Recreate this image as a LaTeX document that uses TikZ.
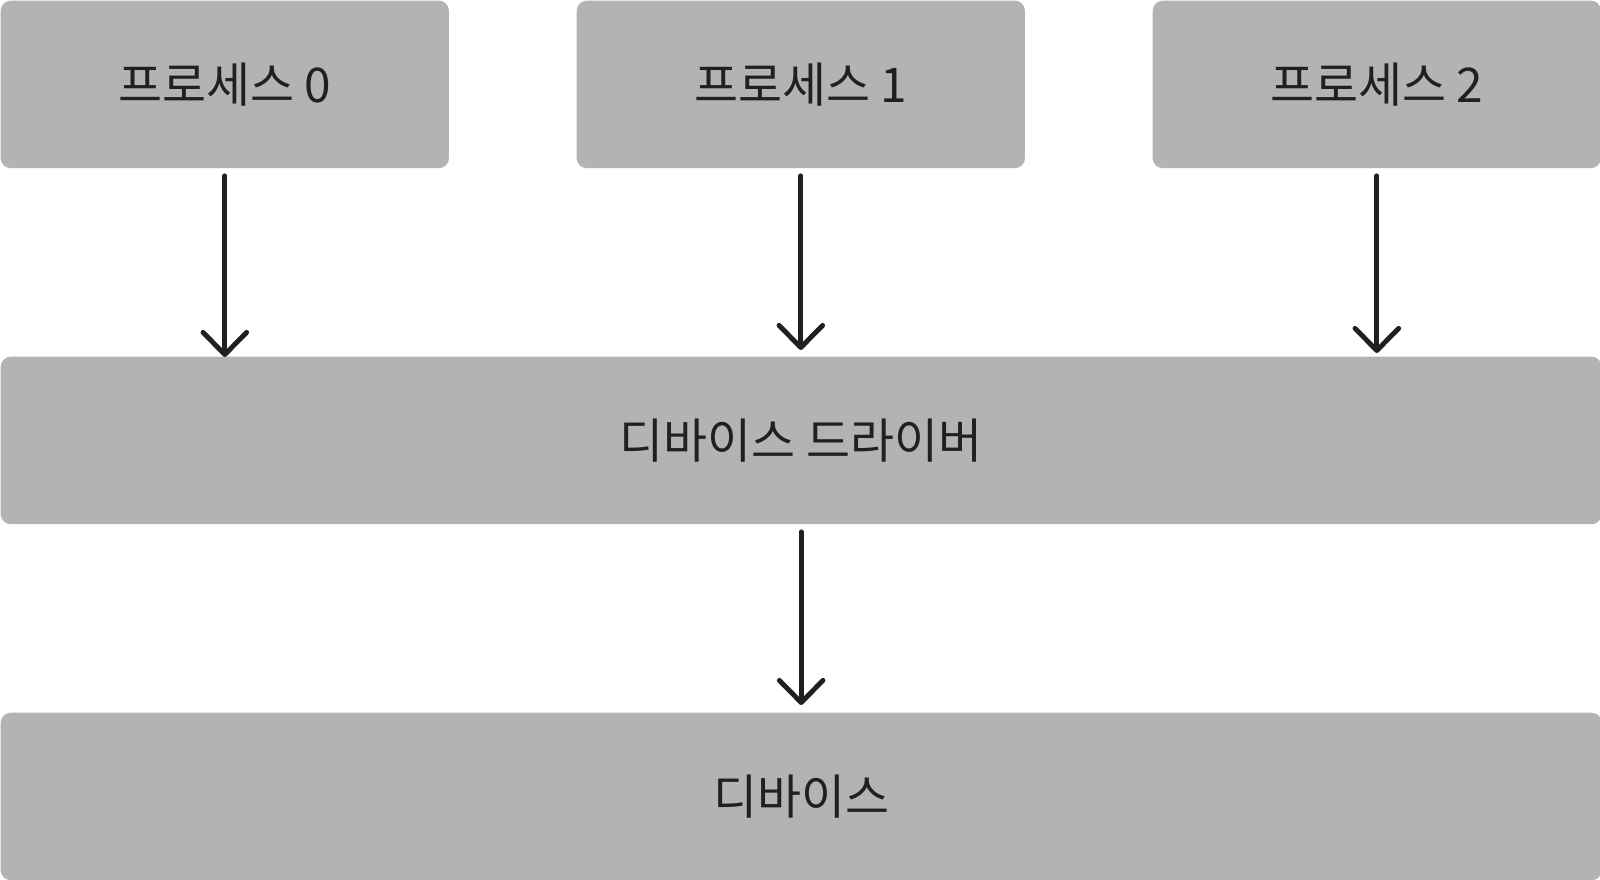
\documentclass[tikz,border=0pt]{standalone}
\usepackage{fontspec}
\setmainfont{Noto Sans CJK KR}
\usetikzlibrary{arrows.meta,calc}
\definecolor{boxgray}{RGB}{179,179,179}
\definecolor{ink}{RGB}{32,32,32}
\begin{document}
\begin{tikzpicture}[x=0.01cm,y=-0.01cm,
  box/.style={fill=boxgray, rounded corners=0.1cm, inner sep=0pt, anchor=north west,
    font=\fontsize{13.6}{16}\selectfont, text=ink, minimum height=1.674cm},
  smallbox/.style={box, minimum width=4.48cm},
  widebox/.style={box, minimum width=16cm},
  arr/.style={draw=ink, line width=1.4pt, line cap=round,
    -{Straight Barb[length=6.3pt,width=12.4pt,round]}}]
\useasboundingbox (0,0) rectangle (1600,880);
\node[smallbox] (p0) at (0,0) {프로세스 0};
\node[smallbox] (p1) at (576,0) {프로세스 1};
\node[smallbox] (p2) at (1152,0) {프로세스 2};
\node[widebox] (dd) at (0,356) {디바이스 드라이버};
\node[widebox] (dev) at (0,712) {디바이스};
\draw[arr] ($(p0.south)+(0,7)$) -- ($(p0.south |- dd.north)+(0,1)$);
\draw[arr] ($(p1.south)+(0,7)$) -- ($(p1.south |- dd.north)+(0,-6)$);
\draw[arr] ($(p2.south)+(0,7)$) -- ($(p2.south |- dd.north)+(0,-3)$);
\draw[arr] ($(dd.south)+(0,7)$) -- ($(dev.north)+(0,-7)$);
\end{tikzpicture}
\end{document}
